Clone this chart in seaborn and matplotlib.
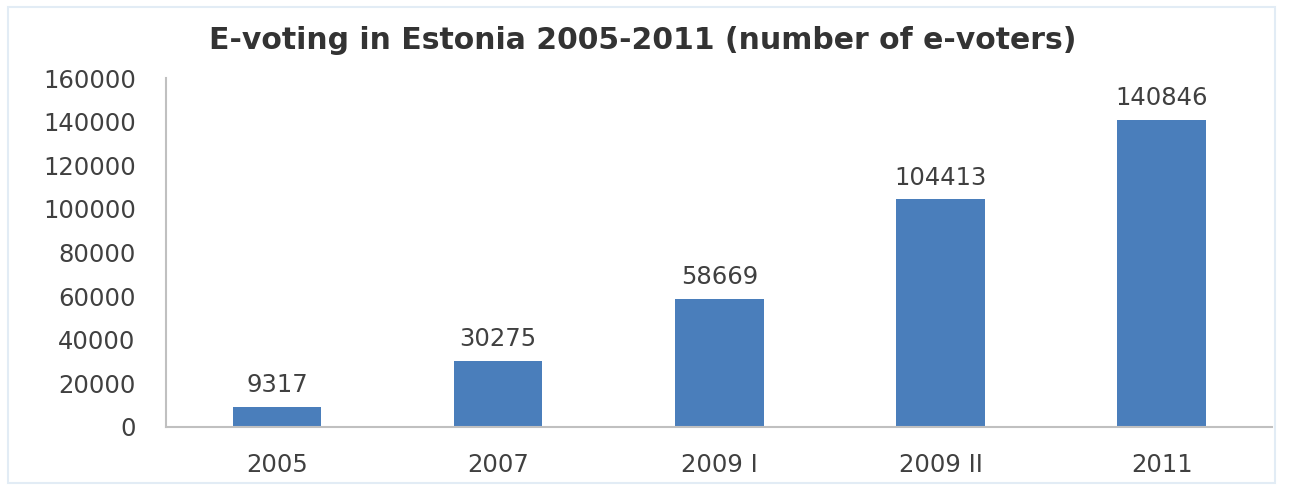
import matplotlib
matplotlib.use("Agg")
import matplotlib.pyplot as plt
import seaborn as sns
import pandas as pd
from matplotlib.patches import Rectangle

categories = ["2005", "2007", "2009 I", "2009 II", "2011"]
voters = [9317, 30275, 58669, 104413, 140846]
yticks = [0, 20000, 40000, 60000, 80000, 100000, 120000, 140000, 160000]
title = "E-voting in Estonia 2005-2011 (number of e-voters)"

sns.set_theme(style="white")
plt.rcParams['font.family'] = ['DejaVu Sans']

df = pd.DataFrame({"cat": categories, "val": voters})

fig = plt.figure(figsize=(12.89, 4.88), dpi=100)
fig.patch.set_facecolor("white")
fig.add_artist(Rectangle((0.006, 0.01), 0.983, 0.975, transform=fig.transFigure,
                         fill=False, edgecolor="#e2ecf5", linewidth=1.5))
ax = fig.add_axes([0.129, 0.125, 0.858, 0.715])
sns.barplot(data=df, x="cat", y="val", color="#4a7ebb", saturation=1, width=0.40,
            linewidth=0, ax=ax)

ax.set_ylim(0, 160000)
ax.set_xlim(-0.5, 4.5)
ax.set_yticks(yticks)
ax.set_yticklabels([str(t) for t in yticks])
ax.set_xlabel("")
ax.set_ylabel("")
ax.tick_params(axis="y", length=0, pad=22, labelsize=17.5, labelcolor="#404040")
ax.tick_params(axis="x", length=0, pad=19, labelsize=17.5, labelcolor="#404040")
for s in ["top", "right"]:
    ax.spines[s].set_visible(False)
for s in ["left", "bottom"]:
    ax.spines[s].set_color("#c0c0c0")
    ax.spines[s].set_linewidth(1.5)

for i, v in enumerate(voters):
    ax.annotate(str(v), (i, v), xytext=(0, 7), textcoords="offset points",
                ha="center", va="bottom", fontsize=17.5, color="#404040")

fig.text(0.499, 0.918, title, ha="center", va="center", fontsize=21.5,
         fontweight="bold", color="#333333")

fig.savefig("out.png", dpi=100)
